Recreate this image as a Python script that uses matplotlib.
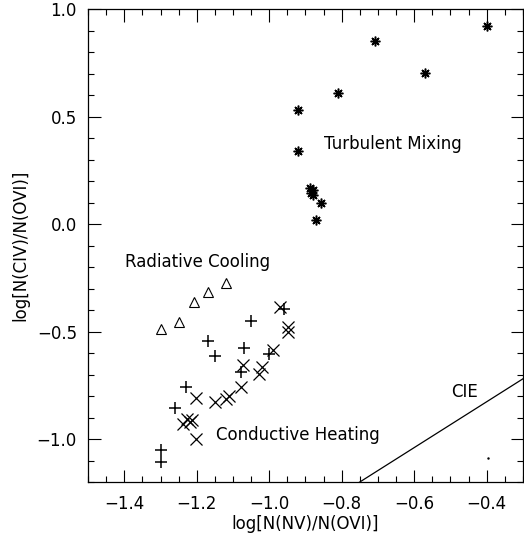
import matplotlib
matplotlib.use('Agg')
import matplotlib.pyplot as plt
from matplotlib.ticker import MultipleLocator, FuncFormatter

# turbulent mixing (asterisks)
tm_x = [-0.921, -0.921, -0.709, -0.809, -0.570, -0.399, -0.888, -0.880, -0.884, -0.878, -0.858, -0.870]
tm_y = [0.529, 0.338, 0.852, 0.609, 0.701, 0.923, 0.168, 0.160, 0.145, 0.135, 0.100, 0.019]

# radiative cooling (triangles)
rc_x = [-1.299, -1.248, -1.209, -1.169, -1.119]
rc_y = [-0.487, -0.456, -0.364, -0.315, -0.274]

# pluses
pl_x = [-1.300, -1.300, -1.259, -1.230, -1.169, -1.149, -1.049, -1.069, -1.079, -1.001, -0.959]
pl_y = [-1.053, -1.107, -0.856, -0.756, -0.544, -0.614, -0.453, -0.575, -0.687, -0.606, -0.396]

# conductive heating (crosses)
ch_x = [-1.201, -1.150, -1.120, -1.111, -1.079, -1.072, -1.029, -1.020, -0.990, -0.969,
        -0.948, -0.948, -1.237, -1.228, -1.220, -1.212, -1.201]
ch_y = [-0.807, -0.827, -0.815, -0.799, -0.757, -0.656, -0.698, -0.667, -0.586, -0.386,
        -0.477, -0.503, -0.930, -0.905, -0.920, -0.910, -1.000]

# CIE line
cie_x = [-0.80, -0.20]
cie_y = [-1.253, -0.613]


def fmt(v, pos):
	s = '%.1f' % abs(v)
	return ('\u2212' + s) if v < -1e-9 else s


def main():
	plt.rcParams['font.family'] = ['DejaVu Sans']
	fig = plt.figure(figsize=(5.24, 5.38), dpi=100)
	ax = fig.add_axes([0.168, 0.104, 0.830, 0.879])

	ax.plot(tm_x, tm_y, ls='none', marker=(8, 2, 0), ms=7, mew=1.1, color='black')
	ax.plot(rc_x, rc_y, ls='none', marker='^', ms=7, mew=0.8, mfc='none', color='black')
	ax.plot(pl_x, pl_y, ls='none', marker='+', ms=8, mew=1.1, color='black')
	ax.plot(ch_x, ch_y, ls='none', marker='x', ms=8, mew=0.9, color='black')
	ax.plot(cie_x, cie_y, color='black', lw=0.9)
	ax.plot([-0.397], [-1.09], ls='none', marker='.', ms=1.5, color='black')

	fs = 12
	ax.text(-0.850, 0.374, 'Turbulent Mixing', fontsize=fs, va='center', ha='left')
	ax.text(-1.398, -0.178, 'Radiative Cooling', fontsize=fs, va='center', ha='left')
	ax.text(-1.147, -0.98, 'Conductive Heating', fontsize=fs, va='center', ha='left')
	ax.text(-0.498, -0.78, 'CIE', fontsize=fs, va='center', ha='left')

	ax.set_xlim(-1.5, -0.3)
	ax.set_ylim(-1.2, 1.0)
	ax.xaxis.set_major_locator(MultipleLocator(0.2))
	ax.xaxis.set_minor_locator(MultipleLocator(0.05))
	ax.yaxis.set_major_locator(MultipleLocator(0.5))
	ax.yaxis.set_minor_locator(MultipleLocator(0.1))
	ax.xaxis.set_major_formatter(FuncFormatter(fmt))
	ax.yaxis.set_major_formatter(FuncFormatter(fmt))
	ax.tick_params(which='both', direction='in', top=True, right=True, width=0.8, labelsize=12)
	ax.tick_params(axis='x', pad=9)
	ax.tick_params(axis='y', pad=8)
	ax.tick_params(which='major', length=9)
	ax.tick_params(which='minor', length=4.5)
	for s in ax.spines.values():
		s.set_linewidth(0.9)

	ax.set_xlabel('log[N(NV)/N(OVI)]', fontsize=12, labelpad=2)
	ax.set_ylabel('log[N(CIV)/N(OVI)]', fontsize=12, labelpad=5)

	fig.savefig('out.png', dpi=100)


if __name__ == '__main__':
	main()
